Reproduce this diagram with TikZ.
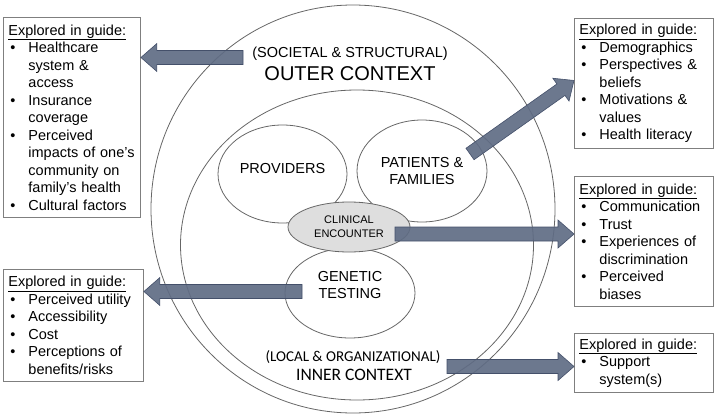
\documentclass[tikz,border=0pt]{standalone}
\usepackage{fontspec}
\setmainfont{Liberation Sans}
\newfontfamily\calibri{Carlito}
\usepackage{xcolor}
\usepackage{tikz}
\usetikzlibrary{calc,positioning,shapes.geometric}
\definecolor{boxgray}{HTML}{7F7F7F}
\definecolor{linegray}{HTML}{666666}
\definecolor{encgray}{HTML}{DEDEDE}
\definecolor{slatefill}{HTML}{5F6C84}
\definecolor{slateline}{HTML}{44506A}
\tikzset{
  bubble/.style={ellipse,draw=linegray,line width=0.8pt,inner sep=0pt},
  bubtext/.style={align=center,font=\fontsize{14.5}{17}\selectfont},
  guidebox/.style={draw=boxgray,line width=0.9pt,anchor=north west,inner xsep=5pt,inner ysep=0pt,align=left,font=\fontsize{14.5}{17.5}\selectfont},
  guidearrow/.style={fill=slatefill,draw=slateline,line width=0.6pt,fill opacity=0.92}
}
\newcommand{\bul}{\hspace*{2pt}\makebox[18pt][l]{\textbullet}}
\newcommand{\ind}{\hspace*{20pt}}
\newcommand{\guidehead}{\underline{Explored in guide:}}
\newcommand{\guidearrow}[2]{%
  \path (#2) coordinate (tip) ($(#2)!16pt!(#1)$) coordinate (hb);
  \draw[guidearrow] ($(#1)!7pt!90:(hb)$) -- ($(hb)!7pt!-90:(#1)$) -- ($(hb)!14pt!-90:(#1)$)
    -- (tip) -- ($(hb)!14pt!90:(#1)$) -- ($(hb)!7pt!90:(#1)$) -- ($(#1)!7pt!-90:(hb)$) -- cycle;}

\begin{document}
\begin{tikzpicture}[x=1pt,y=-1pt]
  \useasboundingbox (0,0) rectangle (720,415);
  \node[bubble,minimum width=404pt,minimum height=408pt] (outer) at (353,209) {};
  \node[bubble,minimum width=353pt,minimum height=310pt] (inner) at (357,245) {};
  \node[font=\fontsize{14.5}{17}\selectfont] (societal) at (350,54) {(SOCIETAL \& STRUCTURAL)};
  \node[font=\fontsize{20}{24}\selectfont] (outerlbl) at (350,74) {OUTER CONTEXT};
  \node[font=\calibri\fontsize{15}{18}\selectfont] (local) at (353,357.5) {(LOCAL \& ORGANIZATIONAL)};
  \node[font=\calibri\fontsize{17.5}{20}\selectfont] (innerlbl) at (354,375) {INNER CONTEXT};

  \node[bubble,minimum width=129pt,minimum height=98pt] (providers) at (282.5,174) {};
  \node[bubtext] (providerstext) at ([yshift=5pt]providers.center) {PROVIDERS};
  \node[bubble,bubtext,minimum width=130pt,minimum height=102pt] (patients) at (422,171) {PATIENTS \&\\FAMILIES};
  \node[bubble,minimum width=130pt,minimum height=90pt] (genetic) at (350,293) {};
  \node[bubtext] (genetictext) at ([yshift=8pt]genetic.center) {GENETIC\\TESTING};
  \node[bubble,fill=encgray,align=center,font=\fontsize{11}{14}\selectfont,minimum width=122pt,minimum height=50pt] (encounter) at (349,227) {CLINICAL\\ENCOUNTER};

  \node[guidebox,text width=127pt,minimum height=200pt] (box1) at (3,17) {\guidehead\\
    \bul Healthcare\\ \ind system \&\\ \ind access\\
    \bul Insurance\\ \ind coverage\\
    \bul Perceived\\ \ind impacts of one's\\ \ind community on\\ \ind family's health\\
    \bul Cultural factors};
  \node[guidebox,text width=129pt,minimum height=130pt] (box2) at (574,18) {\guidehead\\
    \bul Demographics\\
    \bul Perspectives \&\\ \ind beliefs\\
    \bul Motivations \&\\ \ind values\\
    \bul Health literacy};
  \node[guidebox,text width=129pt,minimum height=130pt] (box3) at (574,176) {\guidehead\\
    \bul Communication\\
    \bul Trust\\
    \bul Experiences of\\ \ind discrimination\\
    \bul Perceived\\ \ind biases};
  \node[guidebox,text width=129pt,minimum height=59pt] (box4) at (574,333) {\guidehead\\
    \bul Support\\ \ind system(s)};
  \node[guidebox,text width=130pt,minimum height=112pt] (box5) at (3,269) {\guidehead\\
    \bul Perceived utility\\
    \bul Accessibility\\
    \bul Cost\\
    \bul Perceptions of\\ \ind benefits/risks};

  \coordinate (outertail) at (243,57.5);
  \coordinate (patienttail) at (470,154);
  \coordinate (encountertail) at (395,234);
  \coordinate (genetictail) at (302,291.5);
  \coordinate (innertail) at (447,366.5);
  \coordinate (outertip) at (outertail -| box1.east);
  \coordinate (patienttip) at ([yshift=3pt]box2.west);
  \coordinate (encountertip) at (encountertail -| box3.west);
  \coordinate (genetictip) at (genetictail -| box5.east);
  \coordinate (innertip) at (innertail -| box4.west);
  \guidearrow{outertail}{outertip}
  \guidearrow{patienttail}{patienttip}
  \guidearrow{encountertail}{encountertip}
  \guidearrow{genetictail}{genetictip}
  \guidearrow{innertail}{innertip}
\end{tikzpicture}
\end{document}
